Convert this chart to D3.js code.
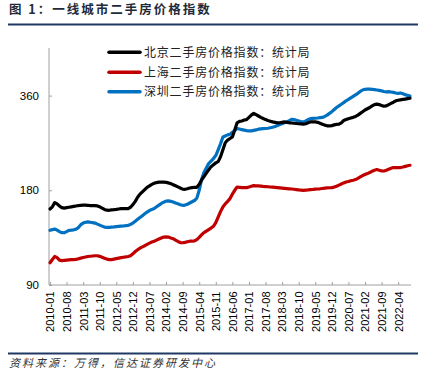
<!DOCTYPE html>
<html><head><meta charset="utf-8">
<script src="https://cdn.jsdelivr.net/npm/d3@7/dist/d3.min.js"></script>
<style>
html,body{margin:0;padding:0;background:#fff;}
svg{display:block;}
</style></head>
<body>
<svg id="c" width="435" height="391"></svg>
<script>
// ---- DATA ----
const startMonth = "2010-01";
const tickLabels = ["2010-01","2010-08","2011-03","2011-10","2012-05","2012-12","2013-07","2014-02","2014-09","2015-04","2015-11","2016-06","2017-01","2017-08","2018-03","2018-10","2019-05","2019-12","2020-07","2021-02","2021-09","2022-04"];
const yTicks = [90, 180, 360];
const seriesNames = ["北京二手房价格指数：统计局","上海二手房价格指数：统计局","深圳二手房价格指数：统计局"];
const beijing = [
157,159.5,164.5,163,160.5,158.5,158,158.5,159,159.5,160,160.5,
161,161.3,161.5,161.5,161.3,161,161,160.8,160.5,159.5,158,156.5,
155.6,155.5,156,156.2,156.5,157,157.3,157.5,157.5,157.5,159,162,
166,171,175,178,181,184,186,188,189.5,190.5,191,191,
191,190.8,190,189,187.5,186,184.5,183,181.5,181.3,182,183,
183.5,184,184,188,194,199,204,209,214,217,220,222,
230,242,255,260,263,266,280,295,298,299,301,302,
307,312,316,313,310,307,304.5,302,300,298.5,297,296,
295,295,296,297,296,295,294.5,294,293.5,293,292.5,292,
293,295,297,297,297,296,294,292,290,288.5,288.4,289,
290.5,291.5,292,295,300,302,304,305.5,307,309,312,316,
320,324,327,330,334,337,338.3,337,335,333,334,337,
340,343,346.5,348,349,350,351,352,353];
const shanghai = [
105.9,108.5,110.9,110,108,107.6,107.8,108,108.2,108.3,108.4,108.5,
109.1,109.6,110.1,110.5,110.9,111.1,111.3,111.5,111.5,111,110.3,109.5,
108.8,108.4,108.4,108.8,109.2,109.6,110,110.3,110.6,110.9,111.5,113.1,
115,116.5,117.9,119,120,121.2,122.3,123.3,124,125,126,127,
127.8,128,127.8,127,126.3,125,123.8,122.8,122.6,123,123.5,124,
124,124.3,125.5,127.5,130,132,133.5,135,136.5,138.3,142,148,
154,159.3,163,166,169.4,175,180,184.4,184,183.6,183.6,183.6,
184.5,185.5,186.3,186,185.8,185.5,185.2,185,184.7,184.4,184.1,183.8,
183.5,183.2,182.9,182.6,182.3,182,181.7,181.4,181,180.6,180.3,180,
180.3,180.6,181,181.2,181.5,181.7,182,182.4,182.8,183.2,183.4,183.6,
184.3,185.5,187,188.5,190,191.3,192,193,193.8,194.7,196.5,198.5,
200.5,202,203.4,205,207,208.5,209.5,208.5,207.5,207.3,208.5,210,
211.5,212.6,212.6,212.5,212.6,213.5,214.5,215.5,216.2];
const shenzhen = [
134.3,135,135.5,134.5,133,132,131.9,133,134.3,134.5,134.8,135.5,
137,140,141.6,142.5,142.8,142.5,142,141.6,140.5,139.5,138.5,137.5,
137.3,137.3,137.5,137.7,138,138.2,138.4,138.6,138.9,139.3,140.2,141.6,
143.5,145.5,147.5,149.5,151.5,153.5,155.3,156.5,157.5,159.5,161.5,163.5,
165,166.3,166.5,166,165.3,164,163,162,161.3,161.5,162.5,164,
165.5,167,170,180,195,205,212,219,223,227,232,242,
253,266,268,270,271.4,275,279,283,282,280.5,279.5,278.5,
278,278,279,280,281.5,282,282.5,283,283.5,284.5,285.5,287,
289,291.4,293,295,297,299.5,302.4,302,300.5,299,297.5,297,
299,302,304,304.6,305,305.5,306.2,306.8,309,312,316,320,
325,330,334,338,342,346.5,350,354,358,362,366,371,
375,377,377.6,377.6,377,376,375,374,372.5,371,370,370.5,
369.5,368.5,367,366,367,365,362.5,360.5,358.7];

// ---- LAYOUT ----
const svg = d3.select("#c");
const colors = ["#000000","#C00000","#0070C0"];
const series = [beijing, shanghai, shenzhen];

const parse = d3.timeParse("%Y-%m");
const fmt = d3.timeFormat("%Y-%m");
const months = d3.range(beijing.length).map(i => fmt(d3.timeMonth.offset(parse(startMonth), i)));

const x = d3.scaleLinear().domain([0, months.length - 1]).range([50, 410]);
const y = d3.scaleLog().base(2).domain([90, 510]).range([285, 48]);

// title
svg.append("text").attr("x", 9).attr("y", 14)
  .attr("font-family", "'Noto Sans CJK SC', sans-serif").attr("font-weight", "bold")
  .attr("font-size", 12.5).attr("letter-spacing", "2px").attr("fill", "#222a3a")
  .text("图 1：一线城市二手房价格指数");
svg.append("line").attr("x1", 8).attr("x2", 418).attr("y1", 24.5).attr("y2", 24.5)
  .attr("stroke", "#1F3864").attr("stroke-width", 2);

// y axis
const yAxis = d3.axisLeft(y).tickValues(yTicks).tickFormat(d3.format("d")).tickSize(-3).tickPadding(10);
const gy = svg.append("g").attr("transform", "translate(49,0)").call(yAxis);
gy.select(".domain").attr("d", "M0,48V285").attr("stroke", "#A0A0A0");
gy.selectAll(".tick line").attr("stroke", "#A0A0A0");
gy.selectAll(".tick text").attr("font-family", "'Liberation Sans', Arial, sans-serif").attr("font-size", 11.5).attr("fill", "#000");

// x axis
const tickIdx = tickLabels.map(l => months.indexOf(l));
const xAxis = d3.axisBottom(x).tickValues(tickIdx).tickFormat(i => months[i]).tickSize(-3).tickPadding(0);
const gx = svg.append("g").attr("transform", "translate(0,285)").call(xAxis);
gx.select(".domain").attr("d", "M49,0H411").attr("stroke", "#A0A0A0");
gx.selectAll(".tick line").attr("stroke", "#A0A0A0");
gx.selectAll(".tick text")
  .attr("font-family", "'Liberation Sans', Arial, sans-serif").attr("font-size", 11).attr("fill", "#000")
  .attr("text-anchor", "end").attr("transform", "rotate(-90)")
  .attr("x", -6.5).attr("y", 0).attr("dy", "0.35em");

// lines
const line = d3.line().x((d, i) => x(i)).y(d => y(d));
[2, 1, 0].forEach(k => {
  svg.append("path").datum(series[k]).attr("d", line)
    .attr("fill", "none").attr("stroke", colors[k]).attr("stroke-width", 3.2)
    .attr("stroke-linejoin", "round").attr("stroke-linecap", "round");
});

// legend
const legY = [52.3, 72.3, 91.7];
seriesNames.forEach((n, k) => {
  svg.append("line").attr("x1", 109).attr("x2", 140).attr("y1", legY[k]).attr("y2", legY[k])
    .attr("stroke", colors[k]).attr("stroke-width", 3.5).attr("stroke-linecap", "round");
  svg.append("text").attr("x", 144).attr("y", legY[k]).attr("dy", "0.36em")
    .attr("font-family", "'Noto Sans CJK SC', sans-serif").attr("font-size", 12)
    .attr("letter-spacing", "0.8px").attr("fill", "#222").text(n);
});

// footer
svg.append("line").attr("x1", 8).attr("x2", 418).attr("y1", 353.5).attr("y2", 353.5)
  .attr("stroke", "#1F3864").attr("stroke-width", 2);
svg.append("text").attr("x", 9).attr("y", 367)
  .attr("font-family", "'Noto Sans CJK SC', sans-serif").attr("font-size", 11)
  .attr("font-style", "italic").attr("letter-spacing", "2px").attr("fill", "#333")
  .text("资料来源：万得，信达证券研发中心");
</script>
</body></html>
